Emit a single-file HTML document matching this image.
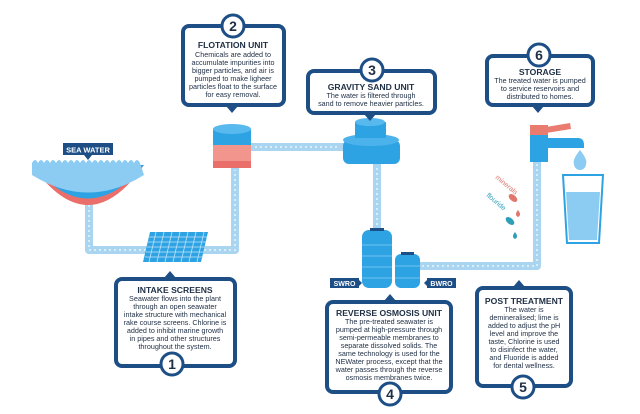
<!DOCTYPE html>
<html><head><meta charset="utf-8"><style>
html,body{margin:0;padding:0;background:#fff;}
svg{display:block;}
.t{font-family:"Liberation Sans",sans-serif;fill:#1e2e44;text-anchor:middle;}
.h{font-weight:bold;font-size:8.6px;}
.b{font-size:7.2px;}
</style></head><body>
<svg width="640" height="414" viewBox="0 0 640 414" xmlns="http://www.w3.org/2000/svg">
<rect width="640" height="414" fill="#fff"/>
<!-- pipes -->
<g stroke="#a9d5f1" stroke-width="8" fill="none" stroke-linejoin="round">
<path d="M89 200 V250 H235 V168"/>
<path d="M250 147 H346"/>
<path d="M377 163 V232"/>
<path d="M418 266 H537 V158"/>
</g>
<g stroke="#d9eefb" stroke-width="2" stroke-dasharray="2 3" fill="none">
<path d="M89 205 V250 H235 V170"/><path d="M255 147 H340"/><path d="M377 168 V228"/><path d="M422 266 H537 V162"/>
</g>
<!-- sea water -->
<path d="M32 165 Q88 245 144 165 Z" fill="#ea6f6a"/>
<path d="M32 165 Q88 232 144 165 Z" fill="#2ea3e3"/>
<path d="M32 163 q3 -6 6 0 q3 -6 6 0 q3 -6 6 0 q3 -6 6 0 q3 -6 6 0 q3 -6 6 0 q3 -6 6 0 q3 -6 6 0 q3 -6 6 0 q3 -6 6 0 q3 -6 6 0 q3 -6 6 0 q3 -6 6 0 q3 -6 6 0 q3 -6 6 0 q3 -6 6 0 q3 -6 6 0 q3 -6 6 0 L144 175 Q88 210 32 175 Z" fill="#8cccf3"/>
<rect x="63" y="143" width="50" height="12" fill="#1d4f86"/>
<path d="M84 155 L88 160 L92 155Z" fill="#1d4f86"/>
<text x="88" y="152.5" class="t" style="fill:#fff;font-weight:bold;font-size:7.5px">SEA WATER</text>
<!-- intake screen -->
<path d="M150 232 H208 L201 262 H143 Z" fill="#2ea3e3"/>
<g stroke="#bfe4fb" stroke-width="0.8">
<path d="M149 237H207M148 242H206M147 247H205M146 252H204M145 257H203"/>
<path d="M156 232L149 262M164 232L157 262M172 232L165 262M180 232L173 262M188 232L181 262M196 232L189 262M204 232L197 262"/>
</g>
<!-- flotation -->
<rect x="213" y="129" width="38" height="16" fill="#2ea3e3"/>
<ellipse cx="232" cy="129" rx="19" ry="5" fill="#58b9ee"/>
<rect x="213" y="145" width="38" height="16" fill="#f1958d"/>
<rect x="213" y="161" width="38" height="7" fill="#ea6f6a"/>
<!-- gravity -->
<rect x="343" y="140" width="57" height="24" rx="6" fill="#2ea3e3"/>
<ellipse cx="371" cy="140" rx="28" ry="6" fill="#4cb2ec"/>
<rect x="355" y="122" width="31" height="16" fill="#2ea3e3"/>
<ellipse cx="370" cy="122" rx="15" ry="4" fill="#58b9ee"/>
<!-- RO tanks -->
<rect x="362" y="230" width="30" height="58" rx="7" fill="#2ea3e3"/>
<rect x="370" y="228" width="14" height="3" fill="#1d4f86"/>
<g stroke="#6cc3f1" stroke-width="1"><path d="M362 245H392M362 256H392M362 267H392M362 278H392"/></g>
<rect x="395" y="254" width="25" height="34" rx="6" fill="#2ea3e3"/>
<rect x="401" y="252" width="13" height="3" fill="#1d4f86"/>
<g stroke="#6cc3f1" stroke-width="1"><path d="M395 266H420M395 278H420"/></g>
<rect x="330" y="278" width="29" height="10" fill="#1d4f86"/><path d="M359 280 L362 283 L359 286Z" fill="#1d4f86"/>
<text x="344.5" y="286" class="t" style="fill:#fff;font-weight:bold;font-size:7px">SWRO</text>
<rect x="427" y="278" width="29" height="10" fill="#1d4f86"/><path d="M427 280 L424 283 L427 286Z" fill="#1d4f86"/>
<text x="441.5" y="286" class="t" style="fill:#fff;font-weight:bold;font-size:7px">BWRO</text>
<!-- faucet -->
<rect x="530" y="125" width="18" height="10" fill="#ea7b6f"/>
<path d="M546 127 L570 123 L571 129 L546 133Z" fill="#ea7b6f"/>
<rect x="530" y="135" width="18" height="27" fill="#2ea3e3"/>
<path d="M546 138 H578 Q584 138 584 145 V148 H546Z" fill="#2ea3e3"/>
<path d="M580 150 Q572 160 574 164 A6 6 0 0 0 586 164 Q588 160 580 150Z" fill="#8cccf3"/>
<path d="M563 175 H603 L599 243 H567Z" fill="none" stroke="#2ea3e3" stroke-width="2"/>
<path d="M566 192 H600 L597 240 H569Z" fill="#8cccf3"/>
<text x="495" y="178" transform="rotate(40 495 178)" style="font-family:'Liberation Sans',sans-serif;font-size:7px;fill:#e0766c">minerals</text>
<text x="486" y="196" transform="rotate(40 486 196)" style="font-family:'Liberation Sans',sans-serif;font-size:7px;fill:#2e9fb8">flouride</text>
<ellipse cx="513" cy="198" rx="5" ry="3" fill="#e0766c" transform="rotate(40 513 198)"/>
<path d="M518 210 q-4 5 0 7 q4 -2 0 -7Z" fill="#e0766c"/>
<ellipse cx="510" cy="221" rx="5" ry="3" fill="#2e9fb8" transform="rotate(40 510 221)"/>
<path d="M515 232 q-4 5 0 7 q4 -2 0 -7Z" fill="#2e9fb8"/>
<!-- boxes -->
<g fill="#fff" stroke="#1d4f86" stroke-width="4">
<rect x="183" y="26" width="101" height="79" rx="6"/>
<rect x="308" y="71" width="127" height="42" rx="6"/>
<rect x="487" y="56" width="106" height="49" rx="6"/>
<rect x="116" y="279" width="119" height="87" rx="6"/>
<rect x="327" y="302" width="124" height="90" rx="6"/>
<rect x="477" y="288" width="94" height="98" rx="6"/>
</g>
<g fill="#1d4f86">
<path d="M226 106 L232 113 L238 106Z"/>
<path d="M364 114 L370 121 L376 114Z"/>
<path d="M532 106 L538 113 L544 106Z"/>
<path d="M164 278 L170 271 L176 278Z"/>
<path d="M384 301 L390 294 L396 301Z"/>
<path d="M513 287 L519 280 L525 287Z"/>
</g>
<g fill="#fff" stroke="#1d4f86" stroke-width="3">
<circle cx="233" cy="26" r="11"/><circle cx="372" cy="70" r="11"/><circle cx="539" cy="55" r="11"/>
<circle cx="172" cy="364" r="11"/><circle cx="390" cy="394" r="11"/><circle cx="523" cy="387" r="11"/>
</g>
<g class="t" style="font-weight:bold;font-size:14px;fill:#1e2e44">
<text x="233" y="31">2</text><text x="372" y="75">3</text><text x="539" y="60">6</text>
<text x="172" y="369">1</text><text x="390" y="399">4</text><text x="523" y="392">5</text>
</g>
<g class="t">
<text x="233" y="48" class="h">FLOTATION UNIT</text>
<text x="233" y="57" class="b">Chemicals are added to</text>
<text x="233" y="65" class="b">accumulate impurities into</text>
<text x="233" y="73" class="b">bigger particles, and air is</text>
<text x="233" y="81" class="b">pumped to make ligheer</text>
<text x="233" y="89" class="b">particles float to the surface</text>
<text x="233" y="97" class="b">for easy removal.</text>

<text x="371" y="90" class="h">GRAVITY SAND UNIT</text>
<text x="371" y="98" class="b">The water is filtered through</text>
<text x="371" y="106" class="b">sand to remove heavier particles.</text>

<text x="540" y="75" class="h">STORAGE</text>
<text x="540" y="83" class="b">The treated water is pumped</text>
<text x="540" y="91" class="b">to service reservoirs and</text>
<text x="540" y="99" class="b">distributed to homes.</text>

<text x="175" y="293" class="h">INTAKE SCREENS</text>
<text x="175" y="301" class="b">Seawater flows into the plant</text>
<text x="175" y="309" class="b">through an open seawater</text>
<text x="175" y="317" class="b">intake structure with mechanical</text>
<text x="175" y="325" class="b">rake course screens. Chlorine is</text>
<text x="175" y="333" class="b">added to inhibit marine growth</text>
<text x="175" y="341" class="b">in pipes and other structures</text>
<text x="175" y="349" class="b">throughout the system.</text>

<text x="389" y="316" class="h">REVERSE OSMOSIS UNIT</text>
<text x="389" y="324" class="b">The pre-treated seawater is</text>
<text x="389" y="332" class="b">pumped at high-pressure through</text>
<text x="389" y="340" class="b">semi-permeable membranes to</text>
<text x="389" y="348" class="b">separate dissolved solids. The</text>
<text x="389" y="356" class="b">same technology is used for the</text>
<text x="389" y="364" class="b">NEWater process, except that the</text>
<text x="389" y="372" class="b">water passes through the reverse</text>
<text x="389" y="380" class="b">osmosis membranes twice.</text>

<text x="524" y="304" class="h">POST TREATMENT</text>
<text x="524" y="312" class="b">The water is</text>
<text x="524" y="320" class="b">demineralised; lime is</text>
<text x="524" y="328" class="b">added to adjust the pH</text>
<text x="524" y="336" class="b">level and improve the</text>
<text x="524" y="344" class="b">taste, Chlorine is used</text>
<text x="524" y="352" class="b">to disinfect the water,</text>
<text x="524" y="360" class="b">and Fluoride is added</text>
<text x="524" y="368" class="b">for dental wellness.</text>
</g>
</svg>
</body></html>
